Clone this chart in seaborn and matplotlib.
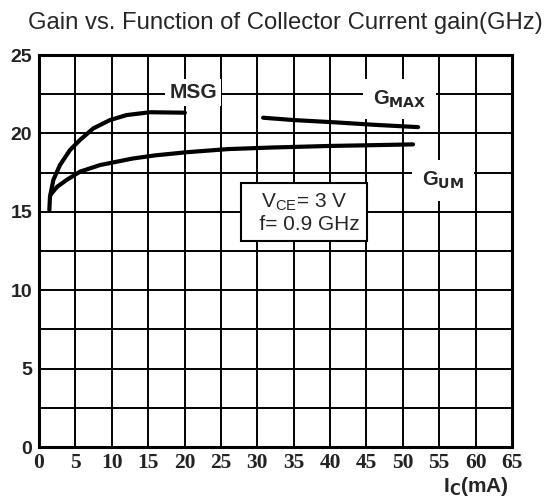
import matplotlib
matplotlib.use("Agg")
import matplotlib.pyplot as plt
import seaborn as sns
import pandas as pd

# Data
msg_x = [1.42, 1.51, 1.97, 2.88, 4.26, 5.63, 7.46, 9.75, 12.04, 15.25, 20.05]
msg_y = [15.1, 15.96, 17.03, 17.98, 18.94, 19.58, 20.32, 20.85, 21.17, 21.35, 21.32]
gum_x = [1.6, 2.5, 3.8, 5.63, 8.38, 12.9, 16.0, 20.3, 26.0, 32.0, 40.0, 46.0, 51.4]
gum_y = [16.1, 16.6, 17.03, 17.56, 17.98, 18.4, 18.6, 18.8, 19.0, 19.1, 19.2, 19.25, 19.3]
gmax_x = [30.8, 35.0, 40.9, 46.0, 52.1]
gmax_y = [21.0, 20.85, 20.7, 20.55, 20.4]
x_ticks = [0, 5, 10, 15, 20, 25, 30, 35, 40, 45, 50, 55, 60, 65]
y_ticks = [0, 5, 10, 15, 20, 25]

sns.set_theme(style="white")
plt.rcParams['font.family'] = ['Liberation Sans', 'DejaVu Sans']

fig = plt.figure(figsize=(5.46, 4.99), dpi=100)
ax = fig.add_axes([39/546, 1-447/499, (512-39)/546, (447-55)/499])

for xs, ys in [(msg_x, msg_y), (gum_x, gum_y), (gmax_x, gmax_y)]:
    df = pd.DataFrame({"x": xs, "y": ys})
    sns.lineplot(data=df, x="x", y="y", ax=ax, color="black", linewidth=3.0,
                 estimator=None, sort=False, solid_capstyle="round",
                 solid_joinstyle="round", zorder=3)

ax.set_xlim(0, 65)
ax.set_ylim(0, 25)
ax.set_xticks(x_ticks)
ax.set_yticks(y_ticks)
ax.set_yticks([i * 2.5 for i in range(11)], minor=True)
ax.grid(True, which="both", color="black", linewidth=1.4)
ax.set_axisbelow(True)
for s in ax.spines.values():
    s.set_color("black")
    s.set_linewidth(2.2)
ax.tick_params(axis="x", which="both", length=0, pad=4)
ax.tick_params(axis="y", which="both", length=0, pad=5)
ax.set_xticklabels([str(v) for v in x_ticks], family="Liberation Serif",
                   fontsize=15.5, fontweight="bold", color="#222222")
ax.set_yticklabels([str(v) for v in y_ticks], family="Liberation Sans",
                   fontsize=14, fontweight="bold", color="#222222")
ax.set_xlabel("")
ax.set_ylabel("")

ax.text(21.2, 22.6, "MSG", ha="center", va="center", fontsize=15,
        fontweight="bold", bbox=dict(facecolor="white", edgecolor="none", pad=3), zorder=4)
ax.text(49.5, 22.2, r"G$_{\mathbf{MAX}}$", ha="center", va="center", fontsize=14.5,
        fontweight="bold", bbox=dict(facecolor="white", edgecolor="none", pad=7), zorder=4)
ax.text(55.5, 17.0, r"G$_{\mathbf{UM}}$", ha="center", va="center", fontsize=14.5,
        fontweight="bold", bbox=dict(facecolor="white", edgecolor="none", pad=7), zorder=4)
ax.text(36.4, 14.95, "V$_{\\mathregular{CE}}$= 3 V\n  f= 0.9 GHz", ha="center", va="center",
        fontsize=15, linespacing=1.1,
        bbox=dict(facecolor="white", edgecolor="black", linewidth=1.5, boxstyle="square,pad=0.35"),
        zorder=4)

fig.text(285/546, 1-22.5/499, "Gain vs. Function of Collector Current gain(GHz)",
         ha="center", va="center", fontsize=17.2)
fig.text(476/546, 1-487/499, r"I$_{\mathbf{C}}$(mA)", ha="center", va="center",
         fontsize=15, fontweight="bold")

fig.savefig("out.png", dpi=100)
